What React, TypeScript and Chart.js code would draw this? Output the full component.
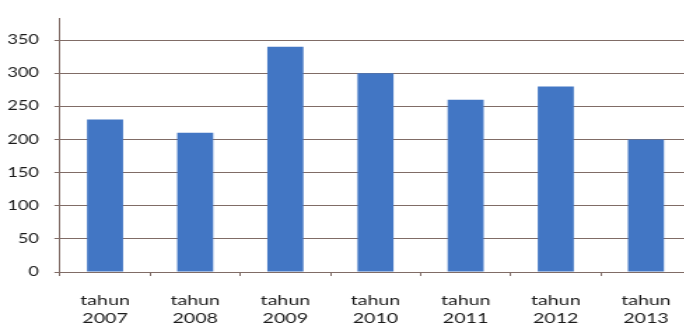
import React, { useEffect, useRef } from "react";
import { Chart, registerables } from "chart.js";

Chart.register(...registerables);

const categories: string[][] = [
  ["tahun", "2007"],
  ["tahun", "2008"],
  ["tahun", "2009"],
  ["tahun", "2010"],
  ["tahun", "2011"],
  ["tahun", "2012"],
  ["tahun", "2013"],
];
const values: number[] = [230, 210, 340, 300, 260, 280, 200];
const yTickStep = 50;
const yMax = 382;

const STRETCH = 1.4;
const CSS_W = 700;
const CSS_H = 327;

export default function App() {
  const ref = useRef<HTMLCanvasElement | null>(null);

  useEffect(() => {
    if (!ref.current) return;
    const lineColor = "rgb(128,108,102)";
    const chart = new Chart(ref.current, {
      type: "bar",
      data: {
        labels: categories,
        datasets: [
          {
            data: values,
            backgroundColor: "#4276C4",
            borderWidth: 0,
            barPercentage: 0.4,
            categoryPercentage: 1,
          },
        ],
      },
      options: {
        responsive: false,
        animation: false,
        devicePixelRatio: 1,
        layout: { padding: { top: 11, left: 0, right: CSS_W / STRETCH - 691 / STRETCH, bottom: 0 } },
        plugins: { legend: { display: false }, tooltip: { enabled: false } },
        scales: {
          x: {
            grid: {
              display: true,
              drawOnChartArea: false,
              drawTicks: true,
              tickLength: 4,
              color: lineColor,
              offset: true,
            },
            border: { display: true, color: lineColor, width: 1 },
            ticks: {
              color: "#1a1a1a",
              font: { family: "Lato", size: 14, lineHeight: 18 / 14 },
              padding: 15,
              maxRotation: 0,
              autoSkip: false,
            },
            afterFit: (axis: any) => {
              axis.height = 55;
            },
          },
          y: {
            min: 0,
            max: yMax,
            grid: {
              color: lineColor,
              lineWidth: 1,
              drawTicks: true,
              tickLength: 4,
            },
            border: { display: true, color: lineColor, width: 1 },
            ticks: {
              stepSize: yTickStep,
              color: "#1a1a1a",
              font: { family: "Lato", size: 13 },
              padding: 11,
            },
            afterBuildTicks: (axis: any) => {
              axis.ticks = axis.ticks.filter((t: any) => t.value % yTickStep === 0);
            },
            afterFit: (axis: any) => {
              axis.width = 60 / STRETCH;
            },
          },
        },
      },
    } as any);
    return () => chart.destroy();
  }, []);

  return (
    <div
      style={{
        position: "fixed",
        left: 0,
        top: 0,
        width: 684,
        height: 327,
        overflow: "hidden",
        background: "#fff",
      }}
    >
      <canvas
        ref={ref}
        width={CSS_W / STRETCH}
        height={CSS_H}
        style={{ width: CSS_W + "px", height: CSS_H + "px" }}
      />
    </div>
  );
}
